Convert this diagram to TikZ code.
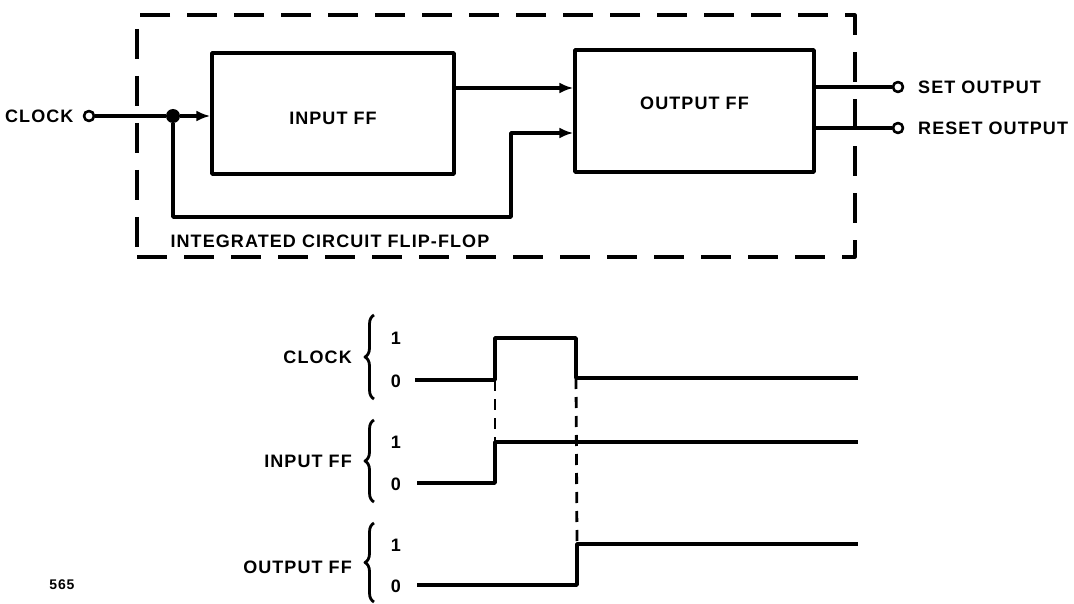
\documentclass[tikz,border=0pt]{standalone}
\usepackage{fontspec}
\setmainfont{Liberation Sans}[LetterSpace=6]
\usetikzlibrary{arrows.meta,calc,positioning,decorations.pathreplacing}

\begin{document}
\begin{tikzpicture}[x=1pt,y=-1pt,>={Latex[length=14pt,width=11pt]},line join=round,
  wire/.style={line width=3.4pt},
  ffbox/.style={draw,line width=3.4pt,inner sep=0pt},
  encl/.style={draw,line width=3.2pt,dash pattern=on 30pt off 17pt,minimum width=718pt,minimum height=242pt,inner sep=0pt},
  term/.style={circle,draw,fill=white,line width=2.6pt,minimum size=10pt,inner sep=0pt},
  jdot/.style={circle,fill,minimum size=14pt,inner sep=0pt},
  lbl/.style={font=\fontsize{18}{21}\selectfont\bfseries,inner sep=0pt},
  guide/.style={line width=2.8pt,dash pattern=on 11pt off 8pt},
  brc/.style={line width=2.8pt,decorate,decoration={brace,amplitude=9pt}}]
  \useasboundingbox (0,0) rectangle (1074,604);

  % block diagram
  \node[encl] (ic) at (496,136) {};
  \node[ffbox,minimum width=242pt,minimum height=121pt,lbl,text height=22pt] (inff) at (333,113.5) {INPUT FF};
  \node[ffbox,minimum width=239pt,minimum height=122pt,lbl,text depth=16pt] (outff) at (694.5,111) {OUTPUT FF};
  \node[lbl,anchor=west] (iclbl) at ([xshift=35pt,yshift=17pt]ic.south west) {INTEGRATED CIRCUIT FLIP-FLOP};

  \node[term] (clkin) at (89,116) {};
  \node[lbl,left=9pt of clkin] (clklbl) {CLOCK};
  \node[jdot] (jn) at (173,116) {};
  \coordinate (fb) at (511,217);
  \node[term] (setout) at (898,87) {};
  \node[term] (rstout) at (898,128) {};
  \node[lbl,anchor=west] (setlbl) at (918,87) {SET OUTPUT};
  \node[lbl,anchor=west] (rstlbl) at (918,128) {RESET OUTPUT};

  \draw[wire] (clkin) -- (jn);
  \draw[wire,->] (jn) -- (inff.west |- jn);
  \draw[wire,->] (inff.east |- 0,88) -- (outff.west |- 0,88);
  \draw[wire,->] (jn) |- (fb) |- (outff.west |- 0,133);
  \draw[wire] (outff.east |- setout) -- (setout);
  \draw[wire] (outff.east |- rstout) -- (rstout);

  % timing diagram
  \coordinate (C0) at (415,380);
  \coordinate (C1) at (495,380);
  \coordinate (C2) at (495,338);
  \coordinate (C3) at (576,338);
  \coordinate (C4) at (576,378);
  \coordinate (C5) at (858,378);
  \coordinate (I0) at (417,483);
  \coordinate (I1) at (495,483);
  \coordinate (I2) at (495,442);
  \coordinate (I3) at (858,442);
  \coordinate (O0) at (417,585);
  \coordinate (O1) at (577,585);
  \coordinate (O2) at (577,544);
  \coordinate (O3) at (858,544);
  \draw[wire] (C0) -- (C1) -- (C2) -- (C3) -- (C4) -- (C5);
  \draw[wire] (I0) -- (I1) -- (I2) -- (I3);
  \draw[wire] (O0) -- (O1) -- (O2) -- (O3);
  \draw[guide] (C1) -- (I2);
  \draw[guide] (C4) -- (O2);

  \draw[brc] (374,399) -- (374,315);
  \draw[brc] (374,502) -- (374,420);
  \draw[brc] (374,602) -- (374,523);
  \node[lbl,anchor=east] (tclk) at (352,357) {CLOCK};
  \node[lbl,anchor=east] (tin) at (352,461) {INPUT FF};
  \node[lbl,anchor=east] (tout) at (352,567) {OUTPUT FF};
  \node[lbl] (c1) at (396,338) {1};
  \node[lbl] (c0) at (396,381) {0};
  \node[lbl] (i1) at (396,442) {1};
  \node[lbl] (i0) at (396,484) {0};
  \node[lbl] (o1) at (396,545) {1};
  \node[lbl] (o0) at (396,586) {0};
  \node[lbl,font=\fontsize{14}{16}\selectfont\bfseries] (fig) at (62,585) {565};
\end{tikzpicture}
\end{document}
